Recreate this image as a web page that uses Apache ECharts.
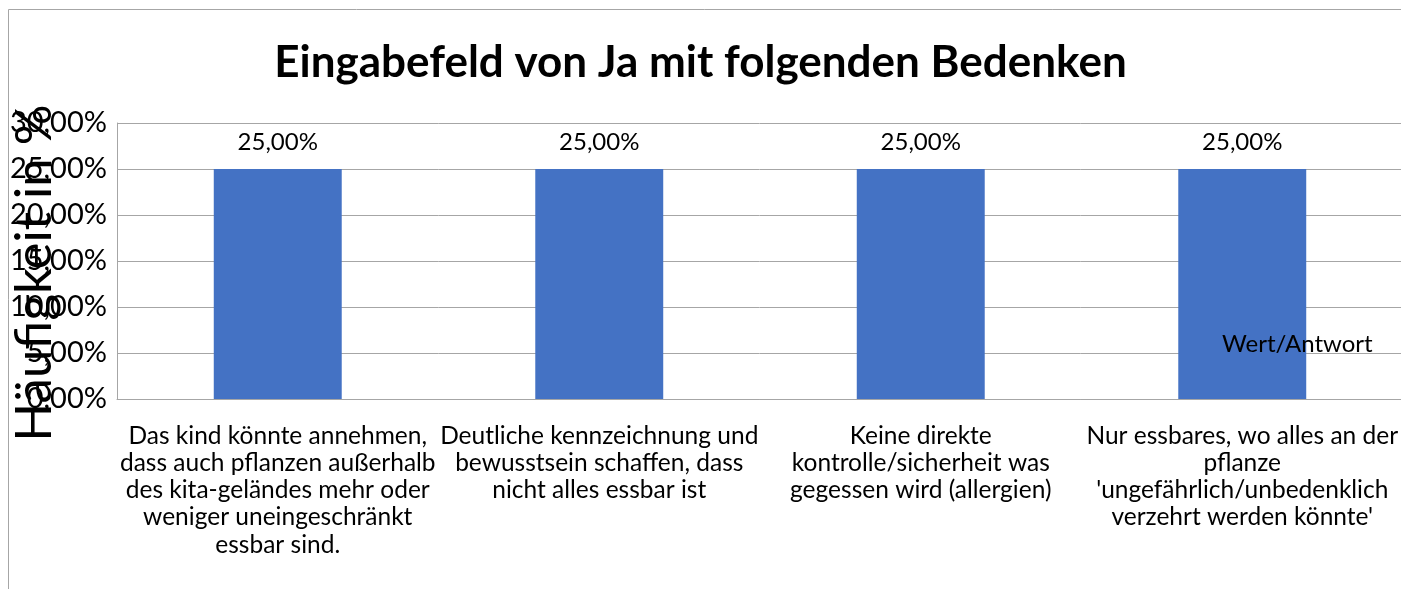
<!DOCTYPE html>
<html><head><meta charset="utf-8">
<script src="https://cdn.jsdelivr.net/npm/echarts@6/dist/echarts.min.js"></script>
<style>html,body{margin:0;padding:0;background:#fff}#c{width:1401px;height:589px}</style>
</head><body><div id="c"></div>
<script>
const title = "Eingabefeld von Ja mit folgenden Bedenken";
const yAxisTitle = "Häufigkeit in %";
const seriesName = "Wert/Antwort";
const categories = [
  "Das kind könnte annehmen,\ndass auch pflanzen außerhalb\ndes kita-geländes mehr oder\nweniger uneingeschränkt\nessbar sind.",
  "Deutliche kennzeichnung und\nbewusstsein schaffen, dass\nnicht alles essbar ist",
  "Keine direkte\nkontrolle/sicherheit was\ngegessen wird (allergien)",
  "Nur essbares, wo alles an der\npflanze\n'ungefährlich/unbedenklich\nverzehrt werden könnte'"
];
const values = [25, 25, 25, 25];
const yMin = 0, yMax = 30, yStep = 5;

const fmt = v => v.toFixed(2).replace('.', ',') + '%';
const FONT = 'Lato, "Open Sans", sans-serif';
const chart = echarts.init(document.getElementById('c'));
chart.setOption({
  animation: false,
  title: {
    text: title, left: 'center', top: 36,
    textStyle: {fontFamily: FONT, fontSize: 44, fontWeight: 'bold', color: '#000'}
  },
  grid: {left: 117, right: -2, top: 123, bottom: 190, containLabel: false, outerBoundsMode: 'none'},
  xAxis: {
    type: 'category', data: categories,
    axisLine: {show: true, lineStyle: {color: '#a6a6a6'}},
    axisTick: {show: false},
    axisLabel: {interval: 0, margin: 23, lineHeight: 27.3, fontSize: 24.5, fontFamily: FONT, color: '#000', align: 'center'}
  },
  yAxis: {
    type: 'value', min: yMin, max: yMax, interval: yStep,
    name: yAxisTitle, nameLocation: 'middle', nameGap: 57, nameRotate: 90, nameMoveOverlap: false,
    nameTextStyle: {fontFamily: FONT, fontSize: 51, color: '#000', padding: [0, 24, 0, 0]},
    axisLine: {show: true, lineStyle: {color: '#a6a6a6'}},
    axisTick: {show: false},
    axisLabel: {formatter: fmt, fontSize: 29, fontFamily: FONT, color: '#000', margin: 10},
    splitLine: {lineStyle: {color: '#a6a6a6'}}
  },
  series: [{
    name: seriesName, type: 'bar', data: values, barWidth: '39.8%',
    itemStyle: {color: '#4472c4'},
    label: {show: true, position: 'top', distance: 15, formatter: p => fmt(p.value),
      fontSize: 24, fontFamily: FONT, color: '#000'}
  }],
  graphic: [
    {type: 'line', shape: {x1: 8.5, y1: 9.5, x2: 8.5, y2: 589}, style: {stroke: '#a6a6a6', lineWidth: 1}},
    {type: 'line', shape: {x1: 8.5, y1: 9.5, x2: 1401, y2: 9.5}, style: {stroke: '#a6a6a6', lineWidth: 1}},
    {type: 'text', x: 1222, y: 344, z: 100, style: {text: seriesName, font: '24px ' + FONT, fill: '#000', textVerticalAlign: 'middle'}}
  ]
});
</script></body></html>
